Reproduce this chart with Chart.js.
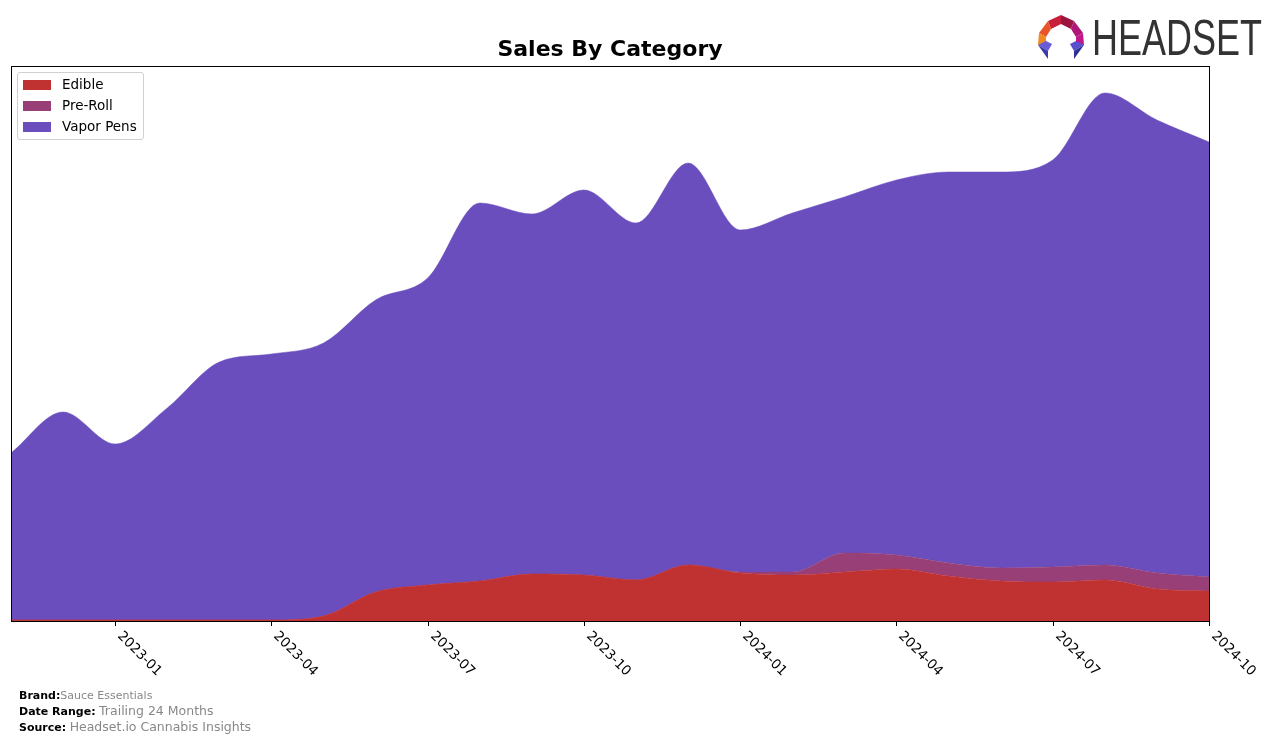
<!DOCTYPE html>
<html>
<head>
<meta charset="utf-8">
<script src="https://cdn.jsdelivr.net/npm/chart.js@4.4.1/dist/chart.umd.min.js"></script>
<style>
  html, body { margin: 0; padding: 0; background: #fff; }
  #wrap { position: relative; width: 1276px; height: 741px; overflow: hidden; font-family: "DejaVu Sans", sans-serif; }
  canvas { position: absolute; left: 0; top: 0; }
  #title { position: absolute; left: 0; width: 1220px; top: 36px; text-align: center; font-weight: bold; font-size: 22px; color: #000; }
  #legend { position: absolute; left: 17px; top: 72px; width: 125px; height: 66px; border: 1px solid #d0d0d0; border-radius: 3px; background: rgba(255,255,255,0.85); font-size: 13.5px; color: #000; }
  .li { position: absolute; left: 5px; height: 16px; line-height: 16px; }
  .sw { position: absolute; left: 0; top: 3px; width: 28px; height: 10px; }
  .lt { position: absolute; left: 39px; top: -1px; white-space: nowrap; }
  #footer { position: absolute; left: 19px; top: 688px; font-size: 11px; line-height: 15px; color: #000; }
  #footer b { font-weight: bold; }
  #footer .g { color: #888; }
  #footer .g2 { color: #888; font-size: 12.5px; }
  #logo { position: absolute; left: 1036px; top: 13px; width: 240px; height: 50px; }
  #logotext { position: absolute; left: 56px; top: -4px; font-family: "Liberation Sans Narrow", "Liberation Sans", sans-serif; font-size: 50px; color: #333; transform: scaleX(0.72); transform-origin: left top; white-space: nowrap; }
</style>
</head>
<body>
<div id="wrap">
  <canvas id="c" width="1276" height="741"></canvas>
  <div id="title">Sales By Category</div>
  <div id="legend"></div>
  <div id="footer">
    <div><b>Brand:</b><span class="g">Sauce Essentials</span></div>
    <div><b>Date Range:</b> <span class="g2">Trailing 24 Months</span></div>
    <div><b>Source:</b> <span class="g2">Headset.io Cannabis Insights</span></div>
  </div>
  <div id="logo">
    <svg width="50" height="50" viewBox="0 0 50 50" style="position:absolute;left:0;top:0">
      <polygon points="25,2 12,8 15,16 25,11" fill="#c8203a"/>
      <polygon points="25,2 38,8 35,16 25,11" fill="#9b1540"/>
      <polygon points="12,8 3,20 10,24 15,16" fill="#e8552a"/>
      <polygon points="38,8 47,20 40,24 35,16" fill="#b0157a"/>
      <polygon points="3,20 2,32 10,32 10,24" fill="#f28a22"/>
      <polygon points="47,20 48,32 40,32 40,24" fill="#c0188a"/>
      <polygon points="2,32 12,38 16,31 10,28" fill="#6a5bd6"/>
      <polygon points="48,32 38,38 34,31 40,28" fill="#5a4fcf"/>
      <polygon points="2,32 12,46 12,38" fill="#3a3aa8"/>
      <polygon points="48,32 38,46 38,38" fill="#2e2e96"/>
    </svg>
    <div id="logotext">HEADSET</div>
  </div>
</div>
<script>
const months = ['2022-11','2022-12','2023-01','2023-02','2023-03','2023-04','2023-05','2023-06','2023-07','2023-08','2023-09','2023-10','2023-11','2023-12','2024-01','2024-02','2024-03','2024-04','2024-05','2024-06','2024-07','2024-08','2024-09','2024-10'];
const tickMonths = ['2023-01','2023-04','2023-07','2023-10','2024-01','2024-04','2024-07','2024-10'];
const edible   = [1,1,1,1,1,1,5,29,36,40,47,46,41,56,48,46,49,52,45,40,39,41,32,30];
const preRoll  = [0,0,0,0,0,0,0,0,0,0,0,0,0,0,1,3,19,14,13,13,15,15,16,14];
const vaporPens= [167,208,176,212,258,266,273,292,307,378,360,385,357,402,342,359,356,375,391,396,407,472,453,435];

const series = [
  { label: 'Edible', data: edible, color: '#c03232' },
  { label: 'Pre-Roll', data: preRoll, color: '#983f78' },
  { label: 'Vapor Pens', data: vaporPens, color: '#6a4ebe' }
];

const leg = document.getElementById('legend');
series.forEach((s, i) => {
  const d = document.createElement('div');
  d.className = 'li';
  d.style.top = (4 + i * 21) + 'px';
  d.innerHTML = '<span class="sw" style="background:' + s.color + '"></span><span class="lt">' + s.label + '</span>';
  leg.appendChild(d);
});

const axisPlugin = {
  id: 'axisPlugin',
  afterDraw(chart) {
    const ctx = chart.ctx;
    const a = chart.chartArea;
    const xs = chart.scales.x;
    ctx.save();
    ctx.strokeStyle = '#000';
    ctx.lineWidth = 1;
    ctx.strokeRect(Math.round(a.left) + 0.5, Math.round(a.top) + 0.5, Math.round(a.right - a.left), Math.round(a.bottom - a.top));
    ctx.fillStyle = '#000';
    ctx.font = '13.5px "DejaVu Sans", sans-serif';
    tickMonths.forEach(m => {
      const idx = months.indexOf(m);
      const x = Math.round(xs.getPixelForValue(idx)) + 0.5;
      ctx.beginPath();
      ctx.moveTo(x, a.bottom);
      ctx.lineTo(x, a.bottom + 5);
      ctx.stroke();
      ctx.save();
      ctx.translate(x + 4, a.bottom + 13);
      ctx.rotate(Math.PI / 4);
      ctx.textAlign = 'left';
      ctx.textBaseline = 'middle';
      ctx.fillText(m, 0, 0);
      ctx.restore();
    });
    ctx.restore();
  }
};

new Chart(document.getElementById('c'), {
  type: 'line',
  data: {
    labels: months,
    datasets: series.map((s, i) => ({
      label: s.label,
      data: s.data,
      backgroundColor: s.color,
      borderColor: s.color,
      borderWidth: 0.5,
      pointRadius: 0,
      fill: i === 0 ? 'origin' : '-1',
      cubicInterpolationMode: 'monotone'
    }))
  },
  options: {
    responsive: false,
    animation: false,
    layout: { padding: { left: 11, right: 67, top: 66, bottom: 120 } },
    plugins: { legend: { display: false }, title: { display: false }, tooltip: { enabled: false } },
    scales: {
      x: { type: 'category', display: false, offset: false },
      y: { display: false, stacked: true, min: 0, max: 555 }
    }
  },
  plugins: [axisPlugin]
});
</script>
</body>
</html>
